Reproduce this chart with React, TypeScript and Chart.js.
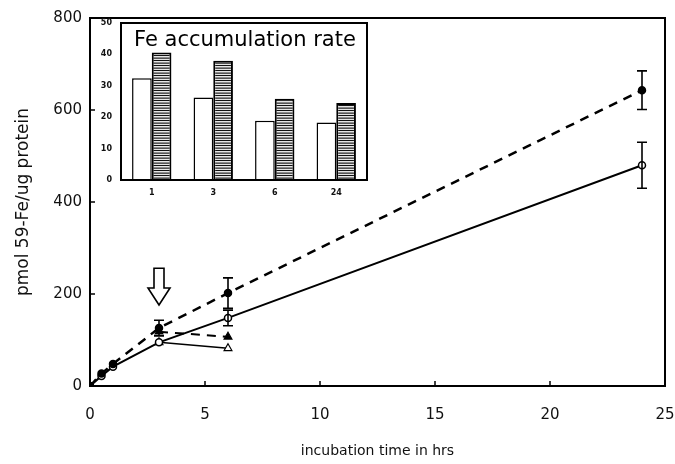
import React, { useEffect, useRef } from 'react';
import { Chart, registerables } from 'chart.js';

Chart.register(...registerables);

// ---- main chart data ----
const TIMES = [0, 0.5, 1, 3, 6, 24];
const TREATED = [0, 27, 48, 126, 202, 643];
const TREATED_ERR = [0, 0, 0, 17, 33, 42];
const CONTROL = [0, 22, 42, 95, 148, 480];
const CONTROL_ERR = [0, 0, 0, 0, 17, 50];
const CHASE_TIMES = [3, 6];
const CHASE_TREATED = [118, 107];
const CHASE_CONTROL = [95, 82];
const X_TICKS = [0, 5, 10, 15, 20, 25];
const Y_TICKS = [0, 200, 400, 600, 800];
const ARROW = { x: 3, top: 256, neck: 213, tip: 176 };

// ---- inset data ----
const RATE_CATEGORIES = ['1', '3', '6', '24'];
const RATE_CONTROL = [32.4, 26.3, 18.9, 18.3];
const RATE_TREATED = [40.6, 38, 25.9, 24.5];
const RATE_TICKS = [0, 10, 20, 30, 40, 50];

const FONT = 'DejaVu Sans';

function pts(xs: number[], ys: number[]) {
  return xs.map((x, i) => ({ x, y: ys[i] }));
}

function makePattern(): CanvasPattern | string {
  const c = document.createElement('canvas');
  c.width = 6;
  c.height = 5;
  const g = c.getContext('2d');
  if (!g) return '#999';
  g.fillStyle = '#e6e6e6';
  g.fillRect(0, 0, 6, 5);
  g.fillStyle = '#111';
  g.fillRect(0, 0, 6, 1);
  g.fillStyle = '#8a8a8a';
  g.fillRect(0, 2, 6, 1);
  g.fillStyle = '#555';
  g.fillRect(0, 3, 6, 1);
  const p = g.createPattern(c, 'repeat');
  return p || '#999';
}

const framePlugin = {
  id: 'frame',
  afterDraw(chart: any) {
    const { ctx, chartArea: a } = chart;
    ctx.save();
    ctx.strokeStyle = '#000';
    ctx.lineWidth = 2;
    ctx.strokeRect(a.left, a.top, a.right - a.left, a.bottom - a.top);
    ctx.restore();
  },
};

const mainExtras = {
  id: 'mainExtras',
  afterDatasetsDraw(chart: any) {
    const { ctx, chartArea: a } = chart;
    const xs = chart.scales.x;
    const ys = chart.scales.y;
    ctx.save();
    // inward ticks
    ctx.strokeStyle = '#000';
    ctx.lineWidth = 1.5;
    Y_TICKS.forEach((v) => {
      if (v === Y_TICKS[0] || v === Y_TICKS[Y_TICKS.length - 1]) return;
      const py = ys.getPixelForValue(v);
      ctx.beginPath();
      ctx.moveTo(a.left, py);
      ctx.lineTo(a.left + 5, py);
      ctx.stroke();
    });
    X_TICKS.forEach((v) => {
      if (v === X_TICKS[0] || v === X_TICKS[X_TICKS.length - 1]) return;
      const px = xs.getPixelForValue(v);
      ctx.beginPath();
      ctx.moveTo(px, a.bottom);
      ctx.lineTo(px, a.bottom - 5);
      ctx.stroke();
    });
    // error bars
    const drawErr = (vals: number[], errs: number[]) => {
      TIMES.forEach((t, i) => {
        if (!errs[i]) return;
        const px = xs.getPixelForValue(t);
        const hi = ys.getPixelForValue(vals[i] + errs[i]);
        const lo = ys.getPixelForValue(vals[i] - errs[i]);
        ctx.lineWidth = 1.6;
        ctx.beginPath();
        ctx.moveTo(px, hi);
        ctx.lineTo(px, lo);
        ctx.moveTo(px - 5, hi);
        ctx.lineTo(px + 5, hi);
        ctx.moveTo(px - 5, lo);
        ctx.lineTo(px + 5, lo);
        ctx.stroke();
      });
    };
    drawErr(TREATED, TREATED_ERR);
    drawErr(CONTROL, CONTROL_ERR);
    // hollow arrow
    const ax = xs.getPixelForValue(ARROW.x);
    const yTop = ys.getPixelForValue(ARROW.top);
    const yNeck = ys.getPixelForValue(ARROW.neck);
    const yTip = ys.getPixelForValue(ARROW.tip);
    const sw = 5;
    const hw = 11;
    ctx.lineWidth = 1.6;
    ctx.fillStyle = '#fff';
    ctx.beginPath();
    ctx.moveTo(ax - sw, yTop);
    ctx.lineTo(ax + sw, yTop);
    ctx.lineTo(ax + sw, yNeck);
    ctx.lineTo(ax + hw, yNeck);
    ctx.lineTo(ax, yTip);
    ctx.lineTo(ax - hw, yNeck);
    ctx.lineTo(ax - sw, yNeck);
    ctx.closePath();
    ctx.fill();
    ctx.stroke();
    ctx.restore();
  },
};

const insetBg = {
  id: 'insetBg',
  beforeDraw(chart: any) {
    const { ctx, chartArea: a } = chart;
    ctx.save();
    ctx.fillStyle = '#fff';
    ctx.fillRect(a.left, a.top, a.right - a.left, a.bottom - a.top);
    ctx.restore();
  },
  afterDraw(chart: any) {
    const { ctx, chartArea: a } = chart;
    ctx.save();
    ctx.fillStyle = '#000';
    ctx.font = `21px ${FONT}`;
    ctx.textBaseline = 'alphabetic';
    ctx.textAlign = 'left';
    ctx.fillText('Fe accumulation rate', a.left + 13, a.top + 23);
    ctx.restore();
  },
};

export default function App() {
  const mainRef = useRef<HTMLCanvasElement>(null);
  const insetRef = useRef<HTMLCanvasElement>(null);

  useEffect(() => {
    if (!mainRef.current || !insetRef.current) return;
    const main = new Chart(mainRef.current, {
      type: 'line',
      data: {
        datasets: [
          {
            label: 'treated',
            data: pts(TIMES, TREATED),
            borderColor: '#000',
            borderWidth: 2.5,
            borderDash: [9, 7],
            pointStyle: 'circle',
            pointRadius: 3.5,
            pointBackgroundColor: '#000',
            pointBorderColor: '#000',
            pointBorderWidth: 1.5,
            fill: false,
          },
          {
            label: 'control',
            data: pts(TIMES, CONTROL),
            borderColor: '#000',
            borderWidth: 2,
            pointStyle: 'circle',
            pointRadius: 3.5,
            pointBackgroundColor: '#fff',
            pointBorderColor: '#000',
            pointBorderWidth: 1.5,
            fill: false,
          },
          {
            label: 'chase treated',
            data: pts(CHASE_TIMES, CHASE_TREATED),
            borderColor: '#000',
            borderWidth: 2,
            borderDash: [9, 7],
            pointStyle: 'triangle',
            pointRadius: 4.5,
            pointBackgroundColor: '#000',
            pointBorderColor: '#000',
            pointBorderWidth: 1.2,
            fill: false,
          },
          {
            label: 'chase control',
            data: pts(CHASE_TIMES, CHASE_CONTROL),
            borderColor: '#000',
            borderWidth: 1.6,
            pointStyle: 'triangle',
            pointRadius: 4.5,
            pointBackgroundColor: '#fff',
            pointBorderColor: '#000',
            pointBorderWidth: 1.2,
            fill: false,
          },
        ],
      },
      options: {
        animation: false,
        responsive: false,
        events: [],
        layout: { padding: { left: 0, right: 10, top: 18, bottom: 0 } },
        plugins: { legend: { display: false }, tooltip: { enabled: false } },
        scales: {
          x: {
            type: 'linear',
            min: 0,
            max: 25,
            afterBuildTicks: (s: any) => {
              s.ticks = X_TICKS.map((v) => ({ value: v }));
            },
            afterFit: (s: any) => {
              s.height = 78;
              s.paddingLeft = 0;
              s.paddingRight = 0;
            },
            grid: { display: false },
            border: { display: false },
            ticks: { color: '#111', font: { family: FONT, size: 15 }, padding: 12, maxRotation: 0 },
            title: {
              display: true,
              text: 'incubation time in hrs',
              color: '#111',
              font: { family: FONT, size: 14 },
              padding: { top: 0, bottom: 4 },
            },
          },
          y: {
            type: 'linear',
            min: 0,
            max: 800,
            afterBuildTicks: (s: any) => {
              s.ticks = Y_TICKS.map((v) => ({ value: v }));
            },
            afterFit: (s: any) => {
              s.width = 90;
            },
            grid: { display: false },
            border: { display: false },
            ticks: { color: '#111', font: { family: FONT, size: 15 }, padding: 0 },
            title: {
              display: true,
              text: 'pmol 59-Fe/ug protein',
              color: '#111',
              font: { family: FONT, size: 17 },
              padding: { top: 13, bottom: 0 },
            },
          },
        },
      },
      plugins: [framePlugin, mainExtras],
    } as any);

    const pattern = makePattern();
    const inset = new Chart(insetRef.current, {
      type: 'bar',
      data: {
        labels: RATE_CATEGORIES,
        datasets: [
          {
            label: 'control',
            data: RATE_CONTROL,
            backgroundColor: '#fff',
            borderColor: '#000',
            borderWidth: 1.5,
            borderSkipped: 'bottom',
            barPercentage: 1,
            categoryPercentage: 0.64,
          },
          {
            label: 'treated',
            data: RATE_TREATED,
            backgroundColor: pattern as any,
            borderColor: '#000',
            borderWidth: 2,
            borderSkipped: 'bottom',
            barPercentage: 1,
            categoryPercentage: 0.64,
          },
        ],
      },
      options: {
        animation: false,
        responsive: false,
        events: [],
        layout: { padding: { left: 0, right: 8, top: 8, bottom: 0 } },
        plugins: { legend: { display: false }, tooltip: { enabled: false } },
        scales: {
          x: {
            afterFit: (s: any) => {
              s.height = 25;
            },
            grid: { display: false },
            border: { display: false },
            ticks: { color: '#111', font: { family: FONT, size: 8, weight: 'bold' }, padding: 0 },
          },
          y: {
            min: 0,
            max: 50,
            afterBuildTicks: (s: any) => {
              s.ticks = RATE_TICKS.map((v) => ({ value: v }));
            },
            afterFit: (s: any) => {
              s.width = 41;
            },
            grid: { display: false },
            border: { display: false },
            ticks: { color: '#111', font: { family: FONT, size: 8, weight: 'bold' }, padding: 1 },
          },
        },
      },
      plugins: [insetBg, framePlugin],
    } as any);

    return () => {
      main.destroy();
      inset.destroy();
    };
  }, []);

  return (
    <div style={{ position: 'fixed', left: 0, top: 0, width: 675, height: 464, background: '#fff' }}>
      <canvas ref={mainRef} width={675} height={464} style={{ position: 'absolute', left: 0, top: 0, width: 675, height: 464 }} />
      <canvas ref={insetRef} width={295} height={190} style={{ position: 'absolute', left: 80, top: 15, width: 295, height: 190 }} />
    </div>
  );
}
